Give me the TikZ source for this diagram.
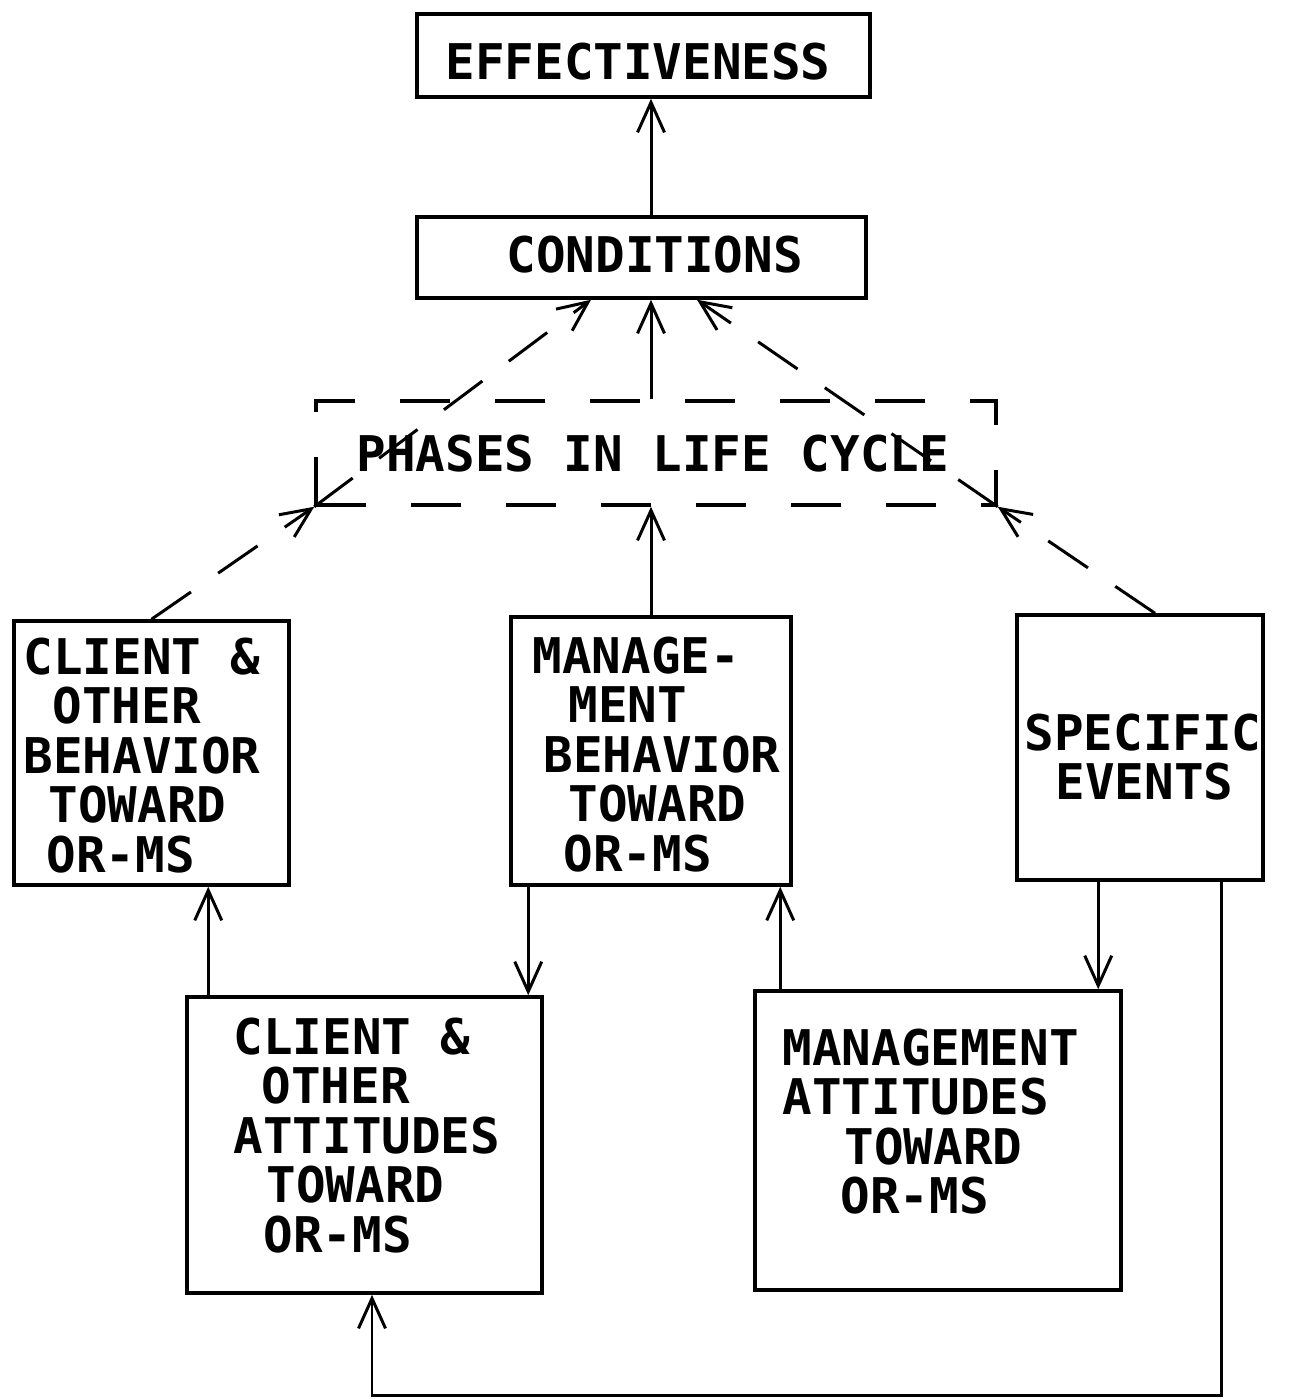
\documentclass[tikz,border=0pt]{standalone}
\usepackage{fontspec}
\usetikzlibrary{arrows.meta}
\newfontfamily\letreiro{DejaVu Sans Mono}
\tikzset{caixa/.style 2 args={draw,line width=2pt,inner sep=0pt,minimum width=#1*0.02cm,minimum height=#2*0.02cm}}
\tikzset{rotulo/.style={anchor=north west,inner sep=0pt,align=left,font=\letreiro\bfseries\fontsize{28}{28.2}\selectfont}}
\tikzset{seta/.style={line width=1.7pt,-{Straight Barb[length=0.6cm,width=0.54cm]}}}
\tikzset{tracos/.style={dash pattern=on 0.96cm off 0.66cm}}
\newcommand{\recuo}[1]{\hspace*{#1}}

\begin{document}
\begin{tikzpicture}[x=0.02cm,y=-0.02cm]
	\useasboundingbox (0,0) rectangle (1299,1399);

	% As caixas
	\node [caixa={453}{83}] (eff) at (643.5,55.5) {};
	\node [caixa={449}{81}] (cond) at (641.5,257.5) {};
	\node [caixa={680}{104},dash pattern=on 1cm off 0.9cm] (fases) at (656,453) {};
	\node [caixa={275}{264}] (cbeh) at (151.5,753) {};
	\node [caixa={280}{268}] (mbeh) at (651,751) {};
	\node [caixa={246}{265}] (ev) at (1140,747.5) {};
	\node [caixa={355}{296}] (catt) at (364.5,1145) {};
	\node [caixa={366}{299}] (matt) at (938,1140.5) {};

	% Os textos
	\node [rotulo] (t-eff) at ([shift={(30,30)}]eff.north west) {EFFECTIVENESS};
	\node [rotulo] (t-cond) at ([shift={(91,20)}]cond.north west) {CONDITIONS};
	\node [rotulo] (t-fases) at ([shift={(42,35)}]fases.north west) {PHASES IN LIFE CYCLE};
	\node [rotulo] (t-cbeh) at ([shift={(11,18)}]cbeh.north west)
		{CLIENT \&\\\recuo{0.58cm}OTHER\\BEHAVIOR\\\recuo{0.5cm}TOWARD\\\recuo{0.46cm}OR-MS};
	\node [rotulo] (t-mbeh) at ([shift={(23,21)}]mbeh.north west)
		{MANAGE-\\\recuo{0.72cm}MENT\\\recuo{0.22cm}BEHAVIOR\\\recuo{0.72cm}TOWARD\\\recuo{0.62cm}OR-MS};
	\node [rotulo] (t-ev) at ([shift={(9,100)}]ev.north west)
		{SPECIFIC\\\recuo{0.62cm}EVENTS};
	\node [rotulo] (t-catt) at ([shift={(48,22)}]catt.north west)
		{CLIENT \&\\\recuo{0.56cm}OTHER\\ATTITUDES\\\recuo{0.66cm}TOWARD\\\recuo{0.6cm}OR-MS};
	\node [rotulo] (t-matt) at ([shift={(29,39)}]matt.north west)
		{MANAGEMENT\\ATTITUDES\\\recuo{1.24cm}TOWARD\\\recuo{1.16cm}OR-MS};

	% Setas cheias
	\draw [seta] (mbeh.north |- cond.north) -- (mbeh.north |- eff.south);
	\draw [seta] (mbeh.north |- fases.north) -- (mbeh.north |- cond.south);
	\draw [seta] (mbeh.north) -- (mbeh.north |- fases.south);

	\coordinate (a) at ([xshift=0.46cm]catt.north west);
	\coordinate (b) at ([xshift=0.38cm]mbeh.south west);
	\coordinate (c) at ([xshift=0.54cm]matt.north west);
	\coordinate (d) at ([xshift=1.66cm]ev.south west);
	\draw [seta] (a) -- (a |- cbeh.south);
	\draw [seta] (b) -- (b |- catt.north);
	\draw [seta] (c) -- (c |- mbeh.south);
	\draw [seta] (d) -- (d |- matt.north);

	% Volta por baixo
	\coordinate (volta) at (372,1395);
	\draw [seta] ([xshift=-0.86cm]ev.south east) |- (volta) -- (volta |- catt.south);

	% Setas tracejadas
	\draw [seta,tracos] (cbeh.north) -- (fases.south west);
	\draw [seta,tracos] (fases.south west) -- ([xshift=-1.01cm]cond.south);
	\draw [seta,tracos] ([xshift=0.3cm]ev.north) -- (fases.south east);
	\draw [seta,tracos] (fases.south east) -- ([xshift=1.11cm]cond.south);

\end{tikzpicture}
\end{document}
